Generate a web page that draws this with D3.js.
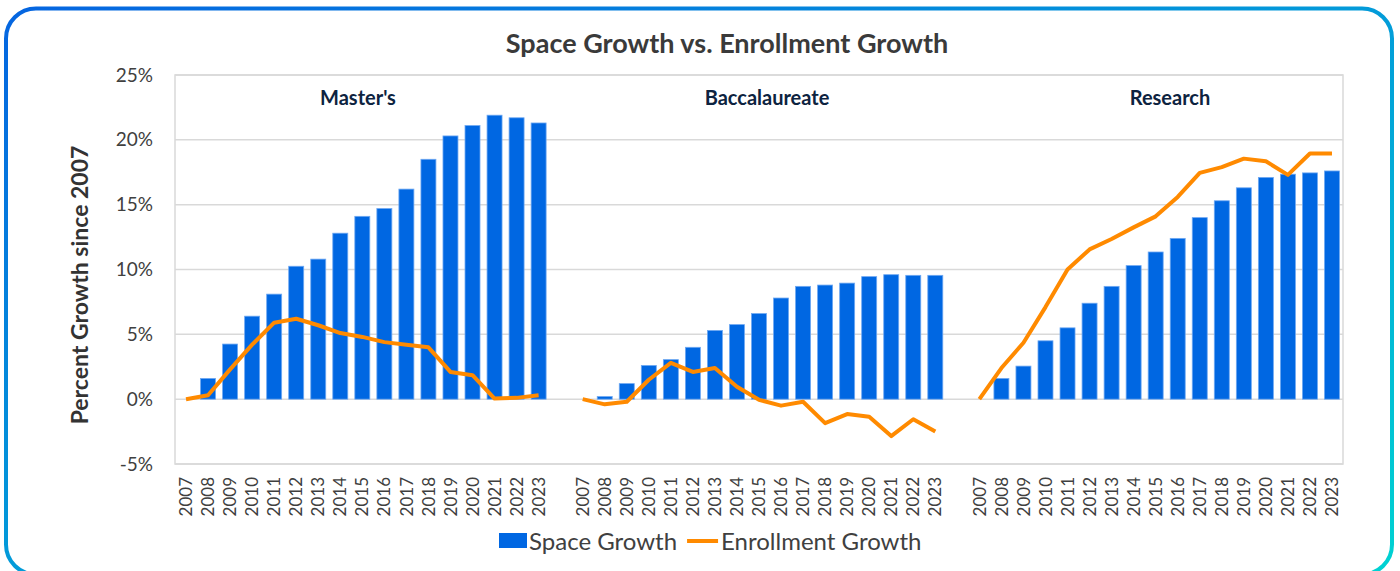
<!DOCTYPE html>
<html>
<head>
<meta charset="utf-8">
<script src="https://cdn.jsdelivr.net/npm/d3@7"></script>
<style>
  html, body { margin: 0; padding: 0; background: #fff; }
  svg { display: block; }
  text { font-family: Lato, "Open Sans", sans-serif; }
</style>
</head>
<body>
<svg id="chart" width="1400" height="571"></svg>
<script>
// ---- data ----
const years = ["2007","2008","2009","2010","2011","2012","2013","2014","2015","2016","2017","2018","2019","2020","2021","2022","2023"];
const groups = ["Master's", "Baccalaureate", "Research"];
const yTicks = [-5, 0, 5, 10, 15, 20, 25];

const mastersSpace   = [0, 1.6, 4.25, 6.4, 8.1, 10.25, 10.8, 12.8, 14.1, 14.7, 16.2, 18.5, 20.3, 21.1, 21.9, 21.7, 21.3];
const mastersEnroll  = [0, 0.3, 2.3, 4.2, 5.9, 6.2, 5.7, 5.1, 4.8, 4.4, 4.2, 4.0, 2.1, 1.85, 0.05, 0.1, 0.3];
const baccSpace      = [0, 0.2, 1.2, 2.6, 3.05, 4.0, 5.3, 5.75, 6.6, 7.8, 8.7, 8.8, 8.95, 9.45, 9.6, 9.55, 9.55];
const baccEnroll     = [0, -0.4, -0.2, 1.5, 2.8, 2.1, 2.4, 0.95, -0.05, -0.5, -0.2, -1.85, -1.15, -1.35, -2.85, -1.55, -2.5];
const researchSpace  = [0, 1.6, 2.55, 4.5, 5.5, 7.4, 8.7, 10.3, 11.35, 12.4, 14.0, 15.3, 16.3, 17.1, 17.35, 17.45, 17.6];
const researchEnroll = [0, 2.4, 4.35, 7.1, 10.0, 11.55, 12.35, 13.25, 14.1, 15.6, 17.45, 17.9, 18.55, 18.35, 17.3, 18.95, 18.95];

const spaceSeries  = [mastersSpace, baccSpace, researchSpace];
const enrollSeries = [mastersEnroll, baccEnroll, researchEnroll];

// ---- styles / layout ----
const W = 1400, H = 571;
const plot = { left: 175, right: 1343, top: 75, bottom: 464 };
const barColor = "#0067E2";
const lineColor = "#FF8A00";
const gridColor = "#D9D9D9";
const titlePos = [
  { x: 358, y: 105 },
  { x: 767, y: 105 },
  { x: 1170, y: 105 }
];

// slot keys: 17 years per group, one blank slot between groups
const slots = [];
groups.forEach((g, gi) => {
  years.forEach(y => slots.push({ key: gi + "-" + y, label: y, group: gi }));
  if (gi < groups.length - 1) slots.push({ key: "gap" + gi, label: "", group: -1 });
});

const svg = d3.select("#chart");

// outer rounded border with gradient
const defs = svg.append("defs");
const grad = defs.append("linearGradient").attr("id", "borderGrad")
  .attr("x1", "0").attr("y1", "0").attr("x2", "1").attr("y2", "1");
grad.append("stop").attr("offset", "0%").attr("stop-color", "#0565E0");
grad.append("stop").attr("offset", "100%").attr("stop-color", "#00D2D2");
svg.append("rect")
  .attr("x", 6).attr("y", 8.5).attr("width", 1386).attr("height", 566)
  .attr("rx", 30).attr("ry", 30)
  .attr("fill", "#fff").attr("stroke", "url(#borderGrad)").attr("stroke-width", 4);

const x = d3.scaleBand()
  .domain(slots.map(s => s.key))
  .range([plot.left, plot.right])
  .paddingInner(0.32).paddingOuter(0.16);

const y = d3.scaleLinear().domain([-5, 25]).range([plot.bottom, plot.top]);

// gridlines
svg.append("g").selectAll("line").data(yTicks).join("line")
  .attr("x1", plot.left).attr("x2", plot.right)
  .attr("y1", d => y(d)).attr("y2", d => y(d))
  .attr("stroke", gridColor).attr("stroke-width", 1.5);

// plot frame
svg.append("rect")
  .attr("x", plot.left).attr("y", plot.top)
  .attr("width", plot.right - plot.left).attr("height", plot.bottom - plot.top)
  .attr("fill", "none").attr("stroke", gridColor).attr("stroke-width", 1.5);

// y axis labels
const yAxis = d3.axisLeft(y).tickValues(yTicks).tickSize(0).tickPadding(22)
  .tickFormat(d => (d < 0 ? "-" : "") + Math.abs(d) + "%");
const gy = svg.append("g").attr("transform", `translate(${plot.left},0)`).call(yAxis);
gy.select(".domain").remove();
gy.selectAll("text").attr("font-family", "Lato").attr("font-size", 19).attr("fill", "#404040");

// x axis labels (rotated)
const xAxis = d3.axisBottom(x).tickSize(0).tickFormat(k => slots.find(s => s.key === k).label);
const gx = svg.append("g").attr("transform", `translate(0,${plot.bottom})`).call(xAxis);
gx.select(".domain").remove();
gx.selectAll(".tick text")
  .attr("font-family", "Lato").attr("font-size", 17).attr("fill", "#404040")
  .attr("text-anchor", "end")
  .attr("transform", "rotate(-90)")
  .attr("x", -13).attr("y", 0).attr("dy", "0.36em");

// bars
groups.forEach((g, gi) => {
  const data = years.map((yr, i) => ({ key: gi + "-" + yr, v: spaceSeries[gi][i] }));
  svg.append("g").selectAll("rect").data(data.filter(d => d.v !== 0)).join("rect")
    .attr("x", d => x(d.key))
    .attr("width", x.bandwidth())
    .attr("y", d => Math.min(y(d.v), y(0)))
    .attr("height", d => Math.abs(y(d.v) - y(0)))
    .attr("fill", barColor)
    .attr("stroke", "#6EA8F2").attr("stroke-width", 0.8);
});

// lines
const line = d3.line().x(d => x(d.key) + x.bandwidth() / 2).y(d => y(d.v));
groups.forEach((g, gi) => {
  const data = years.map((yr, i) => ({ key: gi + "-" + yr, v: enrollSeries[gi][i] }));
  svg.append("path").datum(data)
    .attr("d", line)
    .attr("fill", "none").attr("stroke", lineColor).attr("stroke-width", 4)
    .attr("stroke-linejoin", "round");
});

// group titles
svg.append("g").selectAll("text").data(groups).join("text")
  .attr("x", (d, i) => titlePos[i].x).attr("y", (d, i) => titlePos[i].y)
  .attr("text-anchor", "middle")
  .attr("font-size", 20).attr("font-weight", 700).attr("fill", "#0D2340")
  .text(d => d);

// chart title
svg.append("text").attr("x", 727).attr("y", 53).attr("text-anchor", "middle")
  .attr("font-size", 27).attr("font-weight", 700).attr("fill", "#3A3A3A")
  .text("Space Growth vs. Enrollment Growth");

// y axis title
svg.append("text")
  .attr("transform", "translate(88,285) rotate(-90)")
  .attr("text-anchor", "middle")
  .attr("font-size", 23).attr("font-weight", 700).attr("fill", "#333")
  .text("Percent Growth since 2007");

// legend
const lg = svg.append("g");
lg.append("rect").attr("x", 499).attr("y", 533).attr("width", 28).attr("height", 15).attr("fill", barColor);
const t1 = lg.append("text").attr("x", 529).attr("y", 550).attr("font-size", 24).attr("fill", "#404040").text("Space Growth");
const t1end = 529 + t1.node().getComputedTextLength();
lg.append("line").attr("x1", t1end + 10).attr("x2", t1end + 41).attr("y1", 541).attr("y2", 541)
  .attr("stroke", lineColor).attr("stroke-width", 4);
lg.append("text").attr("x", t1end + 44).attr("y", 550).attr("font-size", 24).attr("fill", "#404040").text("Enrollment Growth");
</script>
</body>
</html>
